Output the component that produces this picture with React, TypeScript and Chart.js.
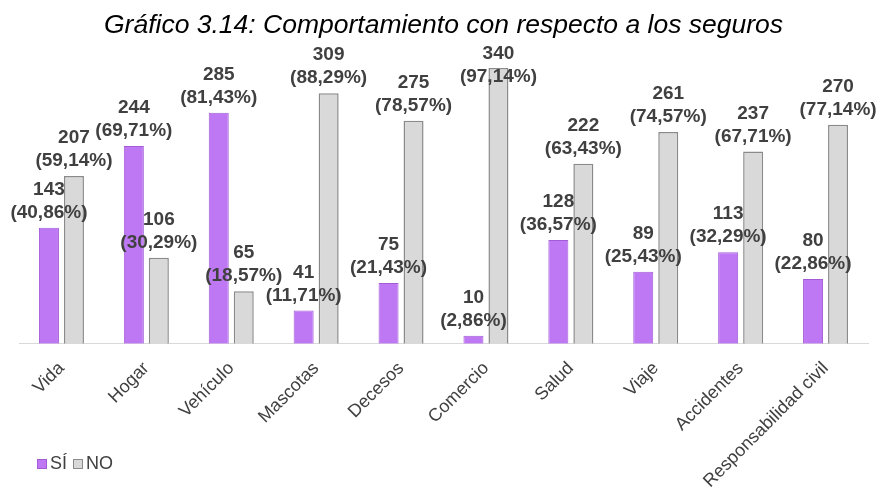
import React, { useEffect, useRef } from "react";
import { Chart, registerables } from "chart.js";

Chart.register(...registerables);

const categories = [
  "Vida",
  "Hogar",
  "Vehículo",
  "Mascotas",
  "Decesos",
  "Comercio",
  "Salud",
  "Viaje",
  "Accidentes",
  "Responsabilidad civil",
];
const siValues = [143, 244, 285, 41, 75, 10, 128, 89, 113, 80];
const noValues = [207, 106, 65, 309, 275, 340, 222, 261, 237, 270];
const siPercents = ["40,86%", "69,71%", "81,43%", "11,71%", "21,43%", "2,86%", "36,57%", "25,43%", "32,29%", "22,86%"];
const noPercents = ["59,14%", "30,29%", "18,57%", "88,29%", "78,57%", "97,14%", "63,43%", "74,57%", "67,71%", "77,14%"];
const seriesNames = ["SÍ", "NO"];
const titleText = "Gráfico 3.14: Comportamiento con respecto a los seguros";

const FONT = "'Liberation Sans', Arial, sans-serif";
const SI_FILL = "#bf78f4";
const SI_BORDER = "#a35cd6";
const NO_FILL = "#d9d9d9";
const NO_BORDER = "#8a8a8a";

const dataLabelPlugin = {
  id: "dataLabelPlugin",
  afterDatasetsDraw(chart: any) {
    const ctx = chart.ctx;
    const pcts = [siPercents, noPercents];
    const minBase = chart.chartArea.top + 30;
    ctx.save();
    ctx.font = `bold 19px ${FONT}`;
    ctx.fillStyle = "#404040";
    ctx.textAlign = "center";
    ctx.textBaseline = "alphabetic";
    chart.data.datasets.forEach((ds: any, di: number) => {
      const meta = chart.getDatasetMeta(di);
      meta.data.forEach((bar: any, i: number) => {
        const x = bar.x;
        const base = Math.max(bar.y - 10, minBase);
        ctx.fillText(`(${pcts[di][i]})`, x, base);
        ctx.fillText(String(ds.data[i]), x, base - 23);
      });
    });
    ctx.restore();
  },
};

const legendPlugin = {
  id: "customLegend",
  afterDraw(chart: any) {
    const ctx = chart.ctx;
    ctx.save();
    ctx.font = `18px ${FONT}`;
    ctx.textBaseline = "middle";
    ctx.textAlign = "left";
    let x = 37;
    const y = 464;
    const fills = [SI_FILL, NO_FILL];
    const borders = [SI_BORDER, NO_BORDER];
    seriesNames.forEach((name, i) => {
      ctx.fillStyle = fills[i];
      ctx.fillRect(x, y - 5, 10, 10);
      ctx.strokeStyle = borders[i];
      ctx.lineWidth = 1;
      ctx.strokeRect(x + 0.5, y - 4.5, 9, 9);
      ctx.fillStyle = "#404040";
      ctx.fillText(name, x + 13, y);
      x += 13 + ctx.measureText(name).width + 6;
    });
    ctx.restore();
  },
};

export default function App() {
  const canvasRef = useRef<HTMLCanvasElement | null>(null);

  useEffect(() => {
    document.body.style.margin = "0";
    const canvas = canvasRef.current;
    if (!canvas) return;
    const chart = new Chart(canvas, {
      type: "bar",
      data: {
        labels: categories,
        datasets: [
          {
            label: seriesNames[0],
            data: siValues,
            backgroundColor: SI_FILL,
            borderColor: SI_BORDER,
            borderWidth: 1,
            barPercentage: 0.8,
            categoryPercentage: 0.589,
          },
          {
            label: seriesNames[1],
            data: noValues,
            backgroundColor: NO_FILL,
            borderColor: NO_BORDER,
            borderWidth: 1.5,
            barPercentage: 0.8,
            categoryPercentage: 0.589,
          },
        ],
      },
      options: {
        responsive: false,
        animation: false,
        layout: { padding: { left: 19, right: 10, top: 0, bottom: -11 } },
        plugins: {
          legend: { display: false },
          tooltip: { enabled: false },
          title: {
            display: true,
            text: titleText,
            color: "#000000",
            font: { family: FONT, size: 26.5, style: "italic", weight: "normal" },
            padding: { top: 10, bottom: 10 },
          },
        },
        scales: {
          x: {
            offset: true,
            grid: { display: false, drawTicks: false },
            border: { display: true, color: "#d9d9d9", width: 1 },
            ticks: {
              autoSkip: false,
              minRotation: 45,
              maxRotation: 45,
              padding: 14,
              color: "#404040",
              font: { family: FONT, size: 18 },
            },
          },
          y: {
            display: false,
            min: 0,
            max: 360,
          },
        },
      },
      plugins: [dataLabelPlugin, legendPlugin],
    });
    return () => chart.destroy();
  }, []);

  return (
    <div style={{ width: 878, height: 495 }}>
      <canvas ref={canvasRef} width={878} height={495} />
    </div>
  );
}
